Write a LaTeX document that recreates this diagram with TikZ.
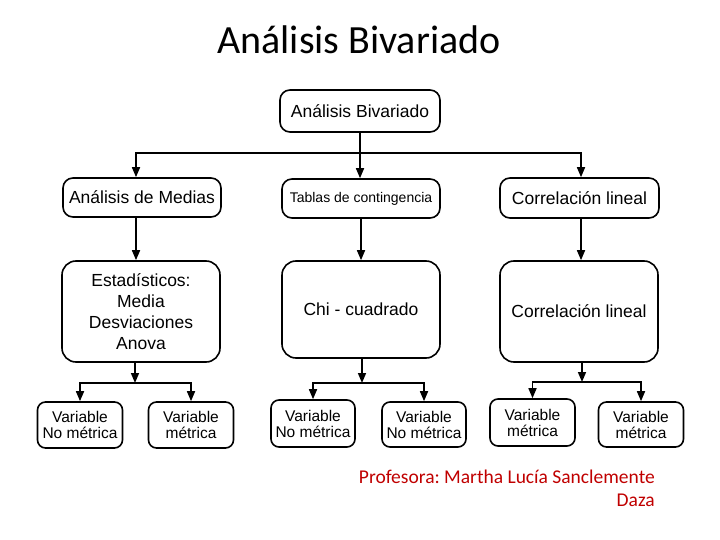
\documentclass[tikz,border=0pt]{standalone}
\usepackage{fontspec}
\setmainfont{Liberation Sans}
\newfontfamily\califont{Carlito}
\usetikzlibrary{positioning}
\usetikzlibrary{calc}
\usetikzlibrary{arrows.meta}
\definecolor{autor}{RGB}{192,0,0}
\frenchspacing

\begin{document}
\begin{tikzpicture}[x=1pt, y=-1pt,
    caja/.style={draw, line width=1.6pt, rounded corners=10pt, align=center, inner sep=0pt, font=\fontsize{17.5}{21}\selectfont},
    hoja/.style={caja, rounded corners=8pt, minimum width=85pt, minimum height=46pt, font=\fontsize{15.5}{16}\selectfont},
    flecha/.style={line width=1.6pt, -{Triangle[length=10pt,width=8pt]}},
    linea/.style={line width=1.6pt}]
    \useasboundingbox (0,0) rectangle (720,540);

    \node[font=\califont\fontsize{40}{44}\selectfont] (titulo) at (359,40) {Análisis Bivariado};

    \coordinate (c1) at (136,0);
    \coordinate (c2) at (361,0);
    \coordinate (c3) at (581,0);

    \node[caja, minimum width=160pt, minimum height=42pt] (biv) at (360,111) {Análisis Bivariado};

    \node[caja, minimum width=158pt, minimum height=39pt] (medias) at (142,197.5) {Análisis de Medias};
    \node[caja, minimum width=158pt, minimum height=39pt, font=\fontsize{14}{16}\selectfont] (tablas) at (361,198.5) {Tablas de contingencia};
    \node[caja, minimum width=159pt, minimum height=40pt] (correl) at (579.5,198) {Correlación lineal};

    \node[caja, rounded corners=14pt, minimum width=158pt, minimum height=101pt] (estad) at (141,311.5) {Estadísticos:\\Media\\Desviaciones\\Anova};
    \node[caja, rounded corners=14pt, minimum width=158pt, minimum height=97pt] (chi) at (361,309.5) {Chi - cuadrado};
    \node[caja, rounded corners=14pt, minimum width=158pt, minimum height=101pt] (lineal) at (579,311.5) {Correlación lineal};

    \node[hoja] (v1) at (80,425) {Variable\\No métrica};
    \node[hoja] (v2) at (191,425) {Variable\\métrica};
    \node[hoja, minimum width=84pt, minimum height=47pt] (v3) at (313,423.5) {Variable\\No métrica};
    \node[hoja, minimum width=84pt, minimum height=45pt] (v4) at (424,424.5) {Variable\\No métrica};
    \node[hoja, minimum height=47pt] (v5) at (532.5,422.5) {Variable\\métrica};
    \node[hoja, minimum height=45pt] (v6) at (641,424.5) {Variable\\métrica};

    \coordinate (jt) at (360,153);
    \draw[flecha] (biv.south) -- (tablas.north -| biv.south);
    \draw[flecha] (jt) -| (medias.north -| c1);
    \draw[flecha] (jt) -| (correl.north -| c3);

    \draw[flecha] (medias.south -| c1) -- (estad.north -| c1);
    \draw[flecha] (tablas.south -| c2) -- (chi.north -| c2);
    \draw[flecha] (correl.south -| c3) -- (lineal.north -| c3);

    \coordinate (j1) at (135,383);
    \coordinate (j2) at (362,383);
    \coordinate (j3) at (582,382);
    \draw[flecha] (estad.south -| j1) -- (j1);
    \draw[flecha] (chi.south -| j2) -- (j2);
    \draw[flecha] (lineal.south -| j3) -- (j3);
    \draw[flecha] (j1) -| (v1.north);
    \draw[flecha] (j1) -| (v2.north);
    \draw[flecha] (j2) -| (v3.north);
    \draw[flecha] (j2) -| (v4.north);
    \draw[flecha] (j3) -| (v5.north);
    \draw[flecha] (j3) -| (v6.north);

    \node[font=\califont\fontsize{19.5}{23}\selectfont, text=autor, align=right, anchor=north east, inner sep=0pt] (autora) at (655,470) {Profesora: Martha Lucía Sanclemente\\Daza};
\end{tikzpicture}
\end{document}
